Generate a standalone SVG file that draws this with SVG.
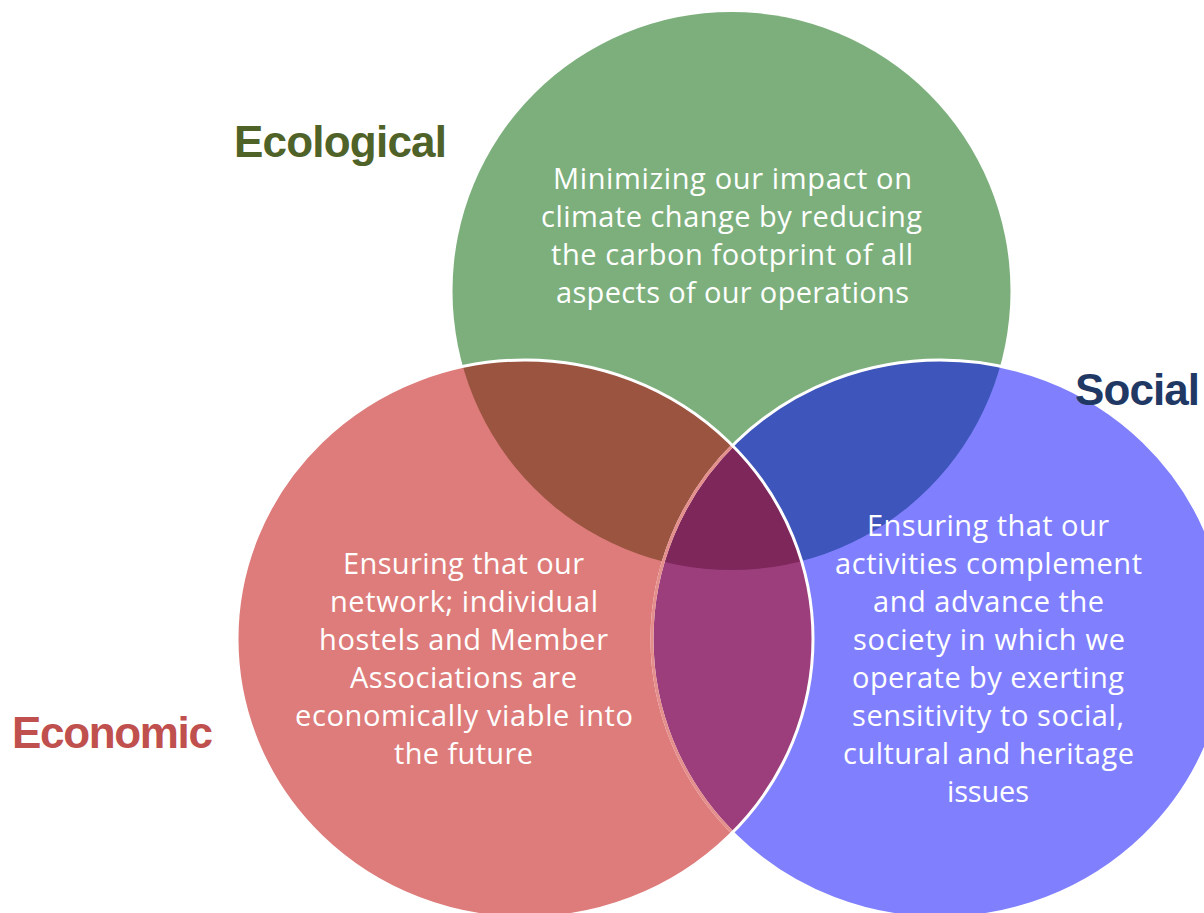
<svg xmlns="http://www.w3.org/2000/svg" width="1204" height="913" viewBox="0 0 1204 913">
<defs>
<clipPath id="cG"><ellipse cx="731.5" cy="291" rx="279" ry="279"/></clipPath>
<clipPath id="cR"><ellipse cx="525" cy="639" rx="288" ry="279"/></clipPath>
<clipPath id="cB"><ellipse cx="940" cy="639" rx="288" ry="279"/></clipPath>
<style>
.body{font-family:"Open Sans","Liberation Sans",sans-serif;font-size:29px;fill:#ffffff;text-anchor:middle}
.lab{font-family:"Liberation Sans","DejaVu Sans",sans-serif;font-size:44px;font-weight:bold}
</style>
</defs>
<rect width="1204" height="913" fill="#ffffff"/>
<g id="ecological-circle">
<ellipse cx="731.5" cy="291" rx="279" ry="279" fill="#7caf7c"/>
</g>
<g id="economic-circle">
<ellipse cx="525" cy="639" rx="288" ry="279" fill="#dd7c7a"/>
</g>
<g id="social-circle">
<ellipse cx="940" cy="639" rx="288" ry="279" fill="#8080fe"/>
</g>
<g id="overlaps">
<ellipse cx="525" cy="639" rx="288" ry="279" fill="#9a5440" clip-path="url(#cG)"/>
<ellipse cx="940" cy="639" rx="288" ry="279" fill="#3e56bb" clip-path="url(#cG)"/>
<ellipse cx="940" cy="639" rx="288" ry="279" fill="#9d3e7c" clip-path="url(#cR)"/>
<g clip-path="url(#cG)"><ellipse cx="940" cy="639" rx="288" ry="279" fill="#7d275b" clip-path="url(#cR)"/></g>
</g>
<g id="outlines" fill="none">
<ellipse cx="940" cy="639" rx="288" ry="279" stroke="#ffffff" stroke-width="3"/>
<ellipse cx="940" cy="639" rx="288" ry="279" stroke="#e48f8c" stroke-width="3" clip-path="url(#cR)"/>
<ellipse cx="525" cy="639" rx="288" ry="279" stroke="#ffffff" stroke-width="3"/>
</g>
<g id="ecological-text">
<text class="lab" x="234" y="157" fill="#4f6228" textLength="213">Ecological</text>
<text class="body" x="732.5" y="189" textLength="359">Minimizing our impact on</text>
<text class="body" x="731.5" y="227" textLength="381">climate change by reducing</text>
<text class="body" x="732" y="265" textLength="362">the carbon footprint of all</text>
<text class="body" x="732.5" y="303" textLength="353">aspects of our operations</text>
</g>
<g id="economic-text">
<text class="lab" x="12" y="748" fill="#c0504d" font-size="42" textLength="201">Economic</text>
<text class="body" x="463.5" y="574" textLength="241">Ensuring that our</text>
<text class="body" x="464" y="612" textLength="268">network; individual</text>
<text class="body" x="463.5" y="650" textLength="289">hostels and Member</text>
<text class="body" x="463.5" y="688" textLength="227">Associations are</text>
<text class="body" x="464" y="726" textLength="338">economically viable into</text>
<text class="body" x="463.5" y="764" textLength="139">the future</text>
</g>
<g id="social-text">
<text class="lab" x="1075" y="405" fill="#1f3864" textLength="125">Social</text>
<text class="body" x="988" y="536" textLength="242">Ensuring that our</text>
<text class="body" x="988.5" y="574" textLength="307">activities complement</text>
<text class="body" x="988.5" y="612" textLength="231">and advance the</text>
<text class="body" x="989" y="650" textLength="272">society in which we</text>
<text class="body" x="988" y="688" textLength="272">operate by exerting</text>
<text class="body" x="988" y="726" textLength="272">sensitivity to social,</text>
<text class="body" x="988.5" y="764" textLength="291">cultural and heritage</text>
<text class="body" x="988" y="802" textLength="82">issues</text>
</g>
</svg>
